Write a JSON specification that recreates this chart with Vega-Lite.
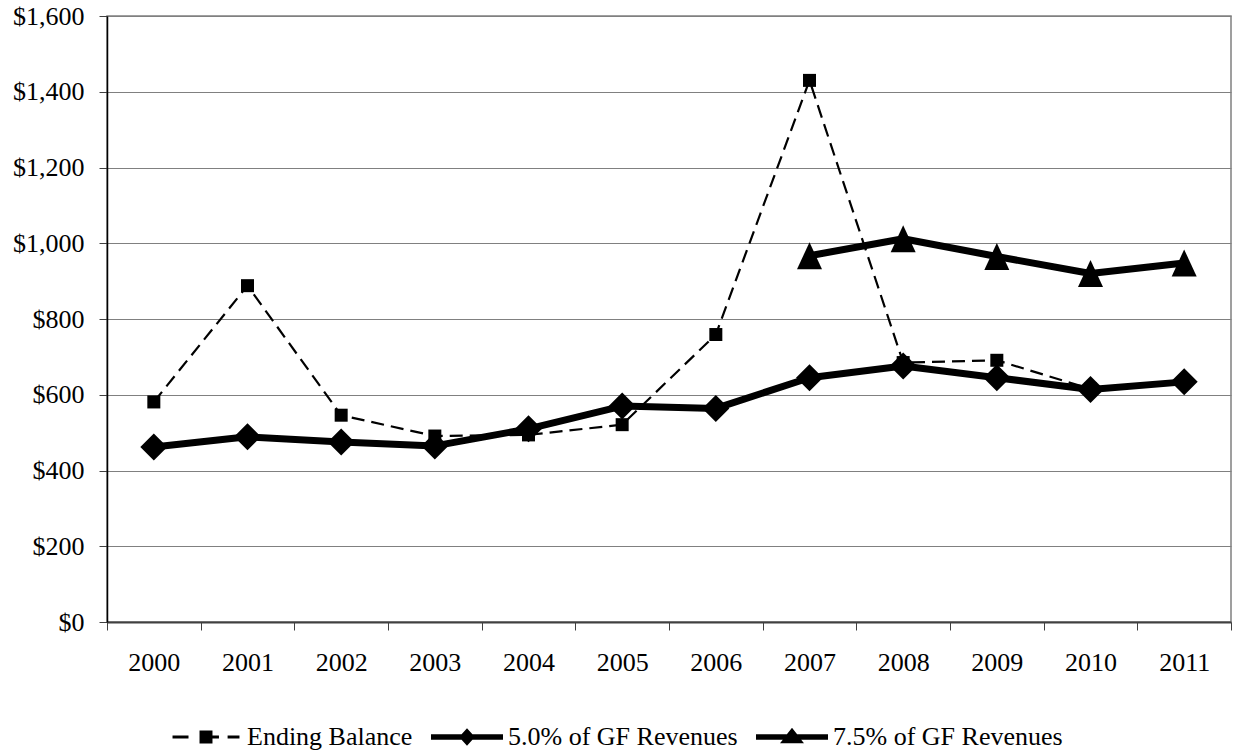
{
  "$schema": "https://vega.github.io/schema/vega-lite/v6.json",
  "width": 1124,
  "height": 606,
  "autosize": {"type": "none"},
  "padding": {"left": 107, "top": 16, "right": 2, "bottom": 130},
  "background": "white",
  "config": {
    "font": "Liberation Serif",
    "view": {"stroke": "#808080", "strokeWidth": 1.5},
    "axis": {"labelFont": "Liberation Serif", "labelFontSize": 26, "labelColor": "black"}
  },
  "data": {
    "values": [
      {"year": "2000", "series": "Ending Balance", "value": 581},
      {"year": "2001", "series": "Ending Balance", "value": 888},
      {"year": "2002", "series": "Ending Balance", "value": 546},
      {"year": "2003", "series": "Ending Balance", "value": 491},
      {"year": "2004", "series": "Ending Balance", "value": 494},
      {"year": "2005", "series": "Ending Balance", "value": 521},
      {"year": "2006", "series": "Ending Balance", "value": 759},
      {"year": "2007", "series": "Ending Balance", "value": 1430},
      {"year": "2008", "series": "Ending Balance", "value": 685},
      {"year": "2009", "series": "Ending Balance", "value": 691},
      {"year": "2010", "series": "Ending Balance", "value": 615},
      {"year": "2000", "series": "5.0% of GF Revenues", "value": 462},
      {"year": "2001", "series": "5.0% of GF Revenues", "value": 489},
      {"year": "2002", "series": "5.0% of GF Revenues", "value": 475},
      {"year": "2003", "series": "5.0% of GF Revenues", "value": 465},
      {"year": "2004", "series": "5.0% of GF Revenues", "value": 510},
      {"year": "2005", "series": "5.0% of GF Revenues", "value": 570},
      {"year": "2006", "series": "5.0% of GF Revenues", "value": 564},
      {"year": "2007", "series": "5.0% of GF Revenues", "value": 645},
      {"year": "2008", "series": "5.0% of GF Revenues", "value": 676},
      {"year": "2009", "series": "5.0% of GF Revenues", "value": 645},
      {"year": "2010", "series": "5.0% of GF Revenues", "value": 614},
      {"year": "2011", "series": "5.0% of GF Revenues", "value": 634},
      {"year": "2007", "series": "7.5% of GF Revenues", "value": 967},
      {"year": "2008", "series": "7.5% of GF Revenues", "value": 1012},
      {"year": "2009", "series": "7.5% of GF Revenues", "value": 965},
      {"year": "2010", "series": "7.5% of GF Revenues", "value": 920},
      {"year": "2011", "series": "7.5% of GF Revenues", "value": 948}
    ]
  },
  "encoding": {
    "x": {
      "field": "year", "type": "ordinal", "title": null,
      "scale": {"type": "band", "paddingInner": 0, "paddingOuter": 0},
      "axis": {"labelAngle": 0, "tickBand": "extent", "tickSize": 8, "tickColor": "#404040", "domainColor": "#404040", "domainWidth": 2, "labelPadding": 19, "grid": false}
    },
    "y": {
      "field": "value", "type": "quantitative", "title": null,
      "scale": {"domain": [0, 1600], "nice": false},
      "axis": {"values": [0, 200, 400, 600, 800, 1000, 1200, 1400, 1600], "format": "$,.0f", "tickSize": 8, "tickColor": "#404040", "domainColor": "black", "domainWidth": 1.5, "labelPadding": 15, "grid": true, "gridColor": "#808080", "gridWidth": 1.2}
    }
  },
  "layer": [
    {
      "mark": {"type": "point", "filled": true, "color": "black", "opacity": 1, "size": 0},
      "encoding": {
        "shape": {
          "field": "series", "type": "nominal",
          "scale": {
            "domain": ["Ending Balance", "5.0% of GF Revenues", "7.5% of GF Revenues"],
            "range": [
              "M-0.93,-0.042L-0.486,-0.042L-0.486,0.042L-0.93,0.042Z M-0.18,-0.18L0.18,-0.18L0.18,0.18L-0.18,0.18Z M0.18,-0.042L0.36,-0.042L0.36,0.042L0.18,0.042Z M0.6,-0.042L0.93,-0.042L0.93,0.042L0.6,0.042Z",
              "M-1,-0.075L-0.151,-0.075L0,-0.24L0.151,-0.075L1,-0.075L1,0.075L0.151,0.075L0,0.24L-0.151,0.075L-1,0.075Z",
              "M-1,-0.075L-0.142,-0.075L0,-0.26L0.142,-0.075L1,-0.075L1,0.075L0.256,0.075L0.333,0.175L-0.333,0.175L-0.256,0.075L-1,0.075Z"
            ]
          },
          "legend": {
            "title": null, "orient": "none", "direction": "horizontal", "legendX": 63, "legendY": 685,
            "symbolSize": 5184, "symbolStrokeWidth": 0, "labelOffset": 5, "columnPadding": 18, "padding": 0,
            "labelFont": "Liberation Serif", "labelFontSize": 26, "labelColor": "black", "labelLimit": 400,
            "encode": {
              "symbols": {
                "update": {
                  "size": {"value": 5184},
                  "fill": {"value": "black"},
                  "fillOpacity": {"value": 1},
                  "opacity": {"value": 1},
                  "strokeWidth": {"value": 0}
                }
              }
            }
          }
        }
      }
    },
    {
      "transform": [{"filter": "datum.series === 'Ending Balance'"}],
      "mark": {"type": "line", "color": "black", "strokeWidth": 2.2, "strokeDash": [13, 7]}
    },
    {
      "transform": [{"filter": "datum.series === 'Ending Balance'"}],
      "mark": {"type": "point", "filled": true, "color": "black", "opacity": 1, "size": 169, "shape": "square"}
    },
    {
      "transform": [{"filter": "datum.series === '5.0% of GF Revenues'"}],
      "mark": {"type": "line", "color": "black", "strokeWidth": 7, "strokeJoin": "round"}
    },
    {
      "transform": [{"filter": "datum.series === '5.0% of GF Revenues'"}],
      "mark": {"type": "point", "filled": true, "color": "black", "opacity": 1, "size": 729, "shape": "diamond"}
    },
    {
      "transform": [{"filter": "datum.series === '7.5% of GF Revenues'"}],
      "mark": {"type": "line", "color": "black", "strokeWidth": 7, "strokeJoin": "round"}
    },
    {
      "transform": [{"filter": "datum.series === '7.5% of GF Revenues'"}],
      "mark": {"type": "point", "filled": true, "color": "black", "opacity": 1, "size": 625, "shape": "M0,-1.08L1,1.08L-1,1.08Z"}
    }
  ]
}
